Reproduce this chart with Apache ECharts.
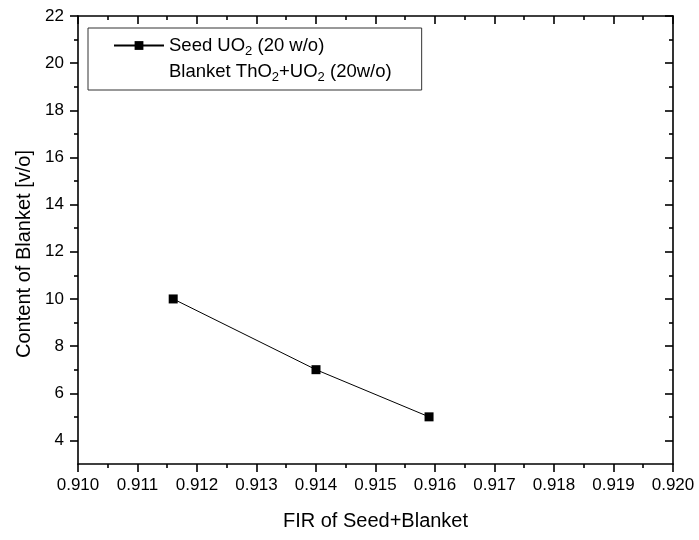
<!DOCTYPE html>
<html>
<head>
<meta charset="utf-8">
<script src="https://cdn.jsdelivr.net/npm/echarts@6/dist/echarts.min.js"></script>
<style>html,body{margin:0;padding:0;background:#fff}#c{width:699px;height:540px}</style>
</head>
<body>
<div id="c"></div>
<script>
// ---- data ----
const firValues = [0.9116, 0.9140, 0.9159];
const blanketContent = [10, 7, 5];
const seriesName = 'Seed UO2 (20 w/o)';
const seriesName2 = 'Blanket ThO2+UO2 (20w/o)';
const xTitle = 'FIR of Seed+Blanket';
const yTitle = 'Content of Blanket [v/o]';
const yMajorTicks = [4, 6, 8, 10, 12, 14, 16, 18, 20, 22];
const yMinorTicks = [5, 7, 9, 11, 13, 15, 17, 19, 21];

const FONT = 'Liberation Sans, Arial, sans-serif';
const chart = echarts.init(document.getElementById('c'), null, {renderer: 'canvas'});
const black = '#000';
const AW = 1.6;

function xAxisBase(pos, inside, showLabel) {
  return {
    type: 'value', position: pos, min: 0.910, max: 0.920, interval: 0.001,
    axisLine: {show: true, onZero: false, lineStyle: {color: black, width: AW}},
    axisTick: {show: true, inside: inside, length: 8, lineStyle: {color: black, width: AW}},
    minorTick: {show: true, splitNumber: 2, length: 4, lineStyle: {color: black, width: AW}},
    splitLine: {show: false}, minorSplitLine: {show: false},
    axisLabel: {show: showLabel, fontFamily: FONT, fontSize: 17, color: black, margin: 13,
      formatter: v => Number(v).toFixed(3)}
  };
}
function yAxisBase(pos, inside, ticks, len, showLine, showLabel) {
  return {
    type: 'value', position: pos, min: 3, max: 22, offset: 0,
    axisLine: {show: showLine, onZero: false, lineStyle: {color: black, width: AW}},
    axisTick: {show: true, inside: inside, length: len, customValues: ticks, lineStyle: {color: black, width: AW}},
    splitLine: {show: false},
    axisLabel: {show: showLabel, customValues: ticks, fontFamily: FONT, fontSize: 17, color: black, margin: 14}
  };
}

const xa0 = xAxisBase('bottom', false, true);
xa0.name = xTitle;
xa0.nameLocation = 'middle';
xa0.nameGap = 47;
xa0.nameTextStyle = {fontFamily: FONT, fontSize: 20, color: black};
const xa1 = xAxisBase('top', true, false);

const ya0 = yAxisBase('left', false, yMajorTicks, 8, true, true);
ya0.name = yTitle;
ya0.nameLocation = 'middle';
ya0.nameGap = 43;
ya0.nameRotate = 90;
ya0.nameTextStyle = {fontFamily: FONT, fontSize: 20, color: black, padding: [0, 28, 0, 0]};
const ya1 = yAxisBase('left', false, yMinorTicks, 4, false, false);
const ya2 = yAxisBase('right', true, yMajorTicks, 8, true, false);
const ya3 = yAxisBase('right', true, yMinorTicks, 4, false, false);

function legendFmt(name) {
  return name.split(/(O2)/).filter(s => s.length).map(s =>
    s === 'O2' ? '{n|O}{sub|2}' : '{n|' + s + '}').join('');
}

const option = {
  backgroundColor: '#fff',
  animation: false,
  grid: {left: 78, right: 26, top: 16, bottom: 76, containLabel: false},
  legend: {
    show: true, orient: 'vertical', left: 88, top: 28,
    padding: [8, 30, 6, 25], itemGap: 5, itemWidth: 50, itemHeight: 11,
    borderColor: '#333', borderWidth: 1, backgroundColor: '#fff',
    selectedMode: false,
    data: [seriesName, seriesName2],
    formatter: legendFmt,
    textStyle: {
      fontFamily: FONT, fontSize: 18.5, color: black,
      rich: {
        n: {fontFamily: FONT, fontSize: 18.5, lineHeight: 24, color: black},
        sub: {fontFamily: FONT, fontSize: 13, lineHeight: 13, verticalAlign: 'bottom', padding: [5, 0, 0, 0], color: black}
      }
    }
  },
  xAxis: [xa0, xa1],
  yAxis: [ya0, ya1, ya2, ya3],
  series: [
    {
      name: seriesName, type: 'line', xAxisIndex: 0, yAxisIndex: 0,
      data: firValues.map((x, i) => [x, blanketContent[i]]),
      symbol: 'rect', symbolSize: 9,
      itemStyle: {color: black},
      lineStyle: {color: black, width: 1},
      z: 5
    },
    {
      name: seriesName2, type: 'line', xAxisIndex: 0, yAxisIndex: 0,
      data: [],
      symbol: 'none',
      itemStyle: {color: 'rgba(0,0,0,0)'},
      lineStyle: {color: 'rgba(0,0,0,0)', width: 0}
    }
  ]
};
chart.setOption(option);
</script>
</body>
</html>
